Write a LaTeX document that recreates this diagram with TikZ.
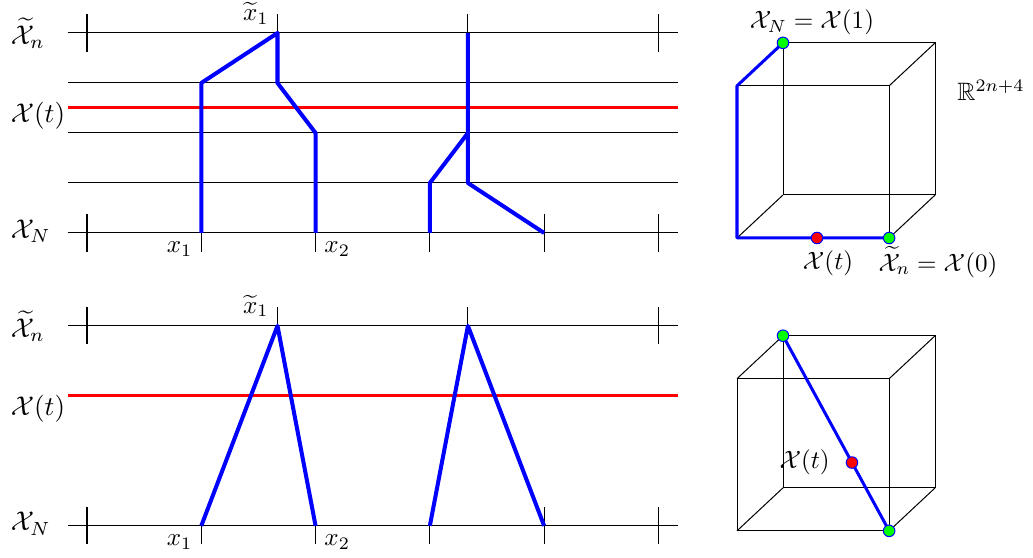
\documentclass[tikz,border=0pt]{standalone}
\usepackage{amsmath}
\usepackage{amssymb}
\usepackage{xcolor}
\usepackage{tikz}
\usetikzlibrary{positioning, calc}

\begin{document}
\begin{tikzpicture}[
    level/.style={thin, black},
    timeline/.style={very thick, red},
    route/.style={ultra thick, blue, line join=round},
    cuberoute/.style={very thick, blue, line join=round},
    edge/.style={thin, black},
    tickmark/.style={thin, black},
    enddot/.style={circle, draw=blue, fill=green, inner sep=0pt, minimum size=4.6pt},
    middot/.style={circle, draw=blue, fill=red, inner sep=0pt, minimum size=4.6pt},
    lvl_label/.style={anchor=west, scale=1.08}
]

    \useasboundingbox (-1.218,-4.55) rectangle (13.244,3.262);

    % ── Panneau du haut : niveaux ──
    \foreach \y in {0, 0.7, 1.4, 2.1, 2.8}
        \draw[level] (-0.27,\y) -- (8.27,\y);
    \draw[timeline] (-0.27,1.75) -- (8.27,1.75);

    \node[lvl_label] (tn1) at (-1.2,2.8)  {$\widetilde{\mathcal{X}}_n$};
    \node[lvl_label] (tt1) at (-1.2,1.64) {$\mathcal{X}(t)$};
    \node[lvl_label] (tN1) at (-1.2,0.03) {$\mathcal{X}_N$};

    % ── Graduations ──
    \coordinate (p0) at (0,0);
    \coordinate (p1) at (1.6,0);
    \coordinate (p2) at (3.2,0);
    \coordinate (p3) at (4.8,0);
    \coordinate (p4) at (6.4,0);
    \coordinate (p5) at (8,0);
    \coordinate (q0) at (0,2.8);
    \coordinate (q1) at (2.667,2.8);
    \coordinate (q2) at (5.333,2.8);
    \coordinate (q3) at (8,2.8);
    \foreach \c in {p0, p4, p5, q0, q3}
        \draw[tickmark] ([yshift=-0.26cm]\c) -- ([yshift=0.26cm]\c);
    \foreach \c in {p1, p2, p3}
        \draw[tickmark] (\c) -- ([yshift=-0.26cm]\c);
    \foreach \c in {q1, q2}
        \draw[tickmark] (\c) -- ([yshift=0.26cm]\c);

    \node[above left]  (lq1) at (q1) {$\widetilde{x}_1$};
    \node[below left]  (lp1) at (p1) {$x_1$};
    \node[below right] (lp2) at (p2) {$x_2$};

    % ── Chemins ──
    \draw[route] (p1) -- (1.6,2.1) -- (q1) -- (2.667,2.1) -- (3.2,1.4) -- (p2);
    \draw[route] (p3) -- (4.8,0.7) -- (5.333,1.4);
    \draw[route] (q2) -- (5.333,0.7) -- (p4);

    % ── Panneau du bas ──
    \begin{scope}[yshift=-4.1cm]
        \draw[level] (-0.27,0) -- (8.27,0);
        \draw[level] (-0.27,2.8) -- (8.27,2.8);
        \draw[timeline] (-0.27,1.82) -- (8.27,1.82);

        \node[lvl_label] (tn2) at (-1.2,2.8)  {$\widetilde{\mathcal{X}}_n$};
        \node[lvl_label] (tt2) at (-1.2,1.64) {$\mathcal{X}(t)$};
        \node[lvl_label] (tN2) at (-1.2,0.03) {$\mathcal{X}_N$};

        \coordinate (r0) at (0,0);
        \coordinate (r1) at (1.6,0);
        \coordinate (r2) at (3.2,0);
        \coordinate (r3) at (4.8,0);
        \coordinate (r4) at (6.4,0);
        \coordinate (r5) at (8,0);
        \coordinate (s0) at (0,2.8);
        \coordinate (s1) at (2.667,2.8);
        \coordinate (s2) at (5.333,2.8);
        \coordinate (s3) at (8,2.8);
    \end{scope}
    \foreach \c in {r0, r4, r5, s0, s3}
        \draw[tickmark] ([yshift=-0.26cm]\c) -- ([yshift=0.26cm]\c);
    \foreach \c in {r1, r2, r3}
        \draw[tickmark] (\c) -- ([yshift=-0.26cm]\c);
    \foreach \c in {s1, s2}
        \draw[tickmark] (\c) -- ([yshift=0.26cm]\c);

    \node[above left]  (ls1) at (s1) {$\widetilde{x}_1$};
    \node[below left]  (lr1) at (r1) {$x_1$};
    \node[below right] (lr2) at (r2) {$x_2$};

    \draw[route] (r1) -- (s1) -- (r2);
    \draw[route] (r3) -- (s2) -- (r4);

    % ── Cube du haut ──
    \coordinate (a1) at (9.1,-0.07);
    \coordinate (a2) at (11.23,-0.07);
    \coordinate (a3) at (11.23,2.06);
    \coordinate (a4) at (9.1,2.06);
    \coordinate (a5) at (9.744,0.532);
    \coordinate (a6) at (11.874,0.532);
    \coordinate (a7) at (11.874,2.662);
    \coordinate (a8) at (9.744,2.662);
    \draw[edge] (a1) -- (a2) -- (a3) -- (a4) -- cycle;
    \draw[edge] (a5) -- (a6) -- (a7) -- (a8) -- cycle;
    \draw[edge] (a1) -- (a5) (a2) -- (a6) (a3) -- (a7) (a4) -- (a8);
    \draw[cuberoute] (a8) -- (a4) -- (a1) -- (a2);
    \node[enddot] (da8) at (a8) {};
    \node[enddot] (da2) at (a2) {};
    \node[middot] (dat) at (10.22,-0.07) {};

    \node (la8) at (10.15,2.954)  {$\mathcal{X}_N = \mathcal{X}(1)$};
    \node (lR)  at (12.656,2.002) {$\mathbb{R}^{2n+4}$};
    \node (lat) at (10.374,-0.42) {$\mathcal{X}(t)$};
    \node (la2) at (11.914,-0.406) {$\widetilde{\mathcal{X}}_n = \mathcal{X}(0)$};

    % ── Cube du bas ──
    \coordinate (b1) at (9.1,-4.17);
    \coordinate (b2) at (11.23,-4.17);
    \coordinate (b3) at (11.23,-2.04);
    \coordinate (b4) at (9.1,-2.04);
    \coordinate (b5) at (9.744,-3.568);
    \coordinate (b6) at (11.874,-3.568);
    \coordinate (b7) at (11.874,-1.438);
    \coordinate (b8) at (9.744,-1.438);
    \draw[edge] (b1) -- (b2) -- (b3) -- (b4) -- cycle;
    \draw[edge] (b5) -- (b6) -- (b7) -- (b8) -- cycle;
    \draw[edge] (b1) -- (b5) (b2) -- (b6) (b3) -- (b7) (b4) -- (b8);
    \draw[cuberoute] (b8) -- (b2);
    \node[enddot] (db8) at (b8) {};
    \node[enddot] (db2) at (b2) {};
    \node[middot] (dbt) at ($(b8)!0.65!(b2)$) {};
    \node[left=0.1cm of dbt] (lbt) {$\mathcal{X}(t)$};

\end{tikzpicture}
\end{document}
